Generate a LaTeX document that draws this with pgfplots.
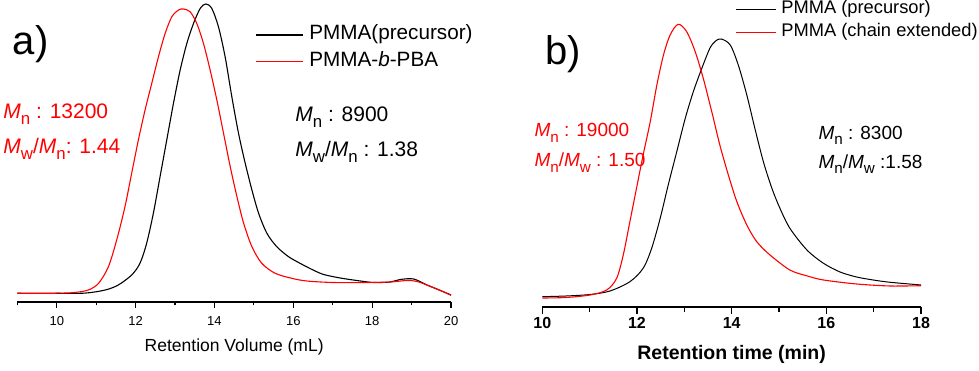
\documentclass[border=0pt]{standalone}
\usepackage{pgfplots}
\pgfplotsset{compat=1.18}
\usepackage{fontspec}
\setmainfont{Liberation Sans}
\newcommand{\sub}[1]{\raisebox{-0.3em}{\scalebox{0.8}{#1}}}
\newcommand{\fs}[1]{\fontsize{#1}{#1}\selectfont}

\pgfplotstableread{
x y
9.0 8.7
10.0 8.7
10.72 8.9
11.23 12
11.56 17
11.90 27
12.11 38.7
12.28 58.7
12.45 88.7
12.62 125.3
12.79 162
12.96 198.7
13.13 232
13.30 258.7
13.47 278.7
13.64 293.7
13.78 298
13.93 293.7
14.10 275.3
14.27 245.3
14.44 205.3
14.61 168.7
14.78 138.7
14.95 112
15.12 88.7
15.33 68.7
15.58 55.3
15.88 45.3
16.17 38.7
16.5 32
16.77 27.5
17.19 24
17.70 21
18.04 19.5
18.46 20
18.71 22.5
19.05 23
19.39 17
19.73 11.5
20.0 7
}\blackA

\pgfplotstableread{
x y
9.0 8.7
10.0 8.8
10.45 9.5
10.80 12
11.06 18.7
11.31 35.3
11.52 62
11.73 95.3
11.90 128.7
12.07 162
12.24 192
12.41 218.7
12.58 245.3
12.75 268.7
12.92 285.3
13.09 292
13.21 293
13.38 290.3
13.55 278.7
13.72 258.7
13.89 232
14.06 202
14.23 168.7
14.40 135.3
14.57 105.3
14.74 78.7
14.95 55.3
15.20 38.7
15.54 28.7
15.96 23.7
16.34 21
17.0 19.5
17.87 19.5
18.46 20
18.88 21.5
19.14 20.5
19.47 15.7
19.73 11.5
20.0 6.7
}\redA

\pgfplotstableread{
x y
10.0 10.3
10.5 11
11.01 12.5
11.43 16
11.85 25.3
12.13 38.7
12.31 58.7
12.49 88.7
12.66 122
12.84 155.3
13.02 188.7
13.19 215.3
13.37 238.7
13.54 258.7
13.66 266
13.78 268
13.97 262
14.14 242
14.32 212
14.49 178.7
14.67 145.3
14.85 118.7
15.02 98.7
15.23 78.7
15.59 57
15.94 43.7
16.29 35
16.64 30
16.99 27
17.35 24.7
18.0 22
}\blackB

\pgfplotstableread{
x y
10.0 9
10.5 9.5
11.01 12
11.36 17
11.57 28.7
11.71 52
11.85 85.3
11.99 118.7
12.13 152
12.28 185.3
12.42 222
12.56 252
12.70 272
12.87 282.7
13.05 275.3
13.23 255.3
13.40 228.7
13.58 195.3
13.75 162
13.93 132
14.11 105.3
14.32 82
14.53 65.3
14.81 52
15.23 37
15.6 31
15.94 27
16.64 23
17.35 21
18.0 21.3
}\redB

\begin{document}
\begin{tikzpicture}
\useasboundingbox (0,0) rectangle (979pt,371pt);
\begin{axis}[
  at={(17.33pt,69pt)}, anchor=south west,
  scale only axis, width=433.7pt, height=302pt,
  xmin=9, xmax=20, ymin=0, ymax=302,
  axis x line*=bottom, axis y line=none, ytick=\empty,
  xtick={10,12,...,20}, minor xtick={9,11,...,19},
  tick align=outside, major tick length=5.7pt, minor tick length=3.5pt,
  tick style={black, line width=1.1pt},
  axis line style={black, line width=1.3pt},
  /pgf/number format/assume math mode=true,
  xticklabel style={font=\fs{13}, yshift=-5pt},
  xlabel={Retention Volume (mL)},
  xlabel style={font=\fs{17.5}, at={(axis description cs:0.5,-0.149)}, anchor=center},
  clip=false,
  legend style={at={(axis description cs:0.548,0.840)}, anchor=west, draw=none, fill=none, inner sep=0pt, font=\fs{20.7}, row sep=6.7pt, column sep=6pt, nodes={inner sep=0pt, text height=15pt, text depth=5pt}},
  legend image code/.code={\draw[#1] (0pt,0pt) -- (47pt,0pt);},
  legend cell align=left,
]
\addplot[black, line width=1.1pt, smooth] table {\blackA};
\addlegendentry{PMMA(precursor)}
\addplot[red, line width=1.1pt, smooth] table {\redA};
\addlegendentry{PMMA-\textit{b}-PBA}
\node[anchor=base west, inner sep=0pt, text=red, font=\fs{21}] at (axis cs:8.644,183.7) {\textit{M}\sub{n} : 13200};
\node[anchor=base west, inner sep=0pt, text=red, font=\fs{21}] at (axis cs:8.644,148.7) {\textit{M}\sub{w}/\textit{M}\sub{n}: 1.44};
\node[anchor=base west, inner sep=0pt, text=black, font=\fs{21}] at (axis cs:16.047,180.3) {\textit{M}\sub{n} : 8900};
\node[anchor=base west, inner sep=0pt, text=black, font=\fs{21}] at (axis cs:16.047,145.3) {\textit{M}\sub{w}/\textit{M}\sub{n} : 1.38};
\node[anchor=base west, inner sep=0pt, font=\fs{40}] at (axis cs:8.88,247) {a)};
\end{axis}

\begin{axis}[
  at={(542.3pt,64pt)}, anchor=south west,
  scale only axis, width=378.7pt, height=307pt,
  xmin=10, xmax=18, ymin=0, ymax=307,
  axis x line*=bottom, axis y line=none, ytick=\empty,
  xtick={10,12,...,18}, minor xtick={11,13,...,17},
  tick align=outside, major tick length=6.7pt, minor tick length=5pt,
  tick style={black, line width=1.1pt},
  axis line style={black, line width=1.3pt},
  /pgf/number format/assume math mode=true,
  xticklabel style={font=\bfseries\fs{16}},
  xlabel={Retention time (min)},
  xlabel style={font=\bfseries\fs{19.5}, at={(axis description cs:0.5,-0.156)}, anchor=center},
  clip=false,
  legend style={at={(axis description cs:0.509,0.932)}, anchor=west, draw=none, fill=none, inner sep=0pt, font=\fs{18.3}, row sep=5pt, column sep=5pt, nodes={inner sep=0pt, text height=13.5pt, text depth=4.5pt}},
  legend image code/.code={\draw[#1] (0pt,0pt) -- (40pt,0pt);},
  legend cell align=left,
]
\addplot[black, line width=1pt, smooth] table {\blackB};
\addlegendentry{PMMA (precursor)}
\addplot[red, line width=1.1pt, smooth] table {\redB};
\addlegendentry{PMMA (chain extended)}
\node[anchor=base west, inner sep=0pt, text=red, font=\fs{19}] at (axis cs:9.831,170.3) {\textit{M}\sub{n} : 19000};
\node[anchor=base west, inner sep=0pt, text=red, font=\fs{19}] at (axis cs:9.831,140.3) {\textit{M}\sub{n}/\textit{M}\sub{w} : 1.50};
\node[anchor=base west, inner sep=0pt, text=black, font=\fs{19}] at (axis cs:15.831,167.7) {\textit{M}\sub{n} : 8300};
\node[anchor=base west, inner sep=0pt, text=black, font=\fs{19}] at (axis cs:15.831,138.7) {\textit{M}\sub{n}/\textit{M}\sub{w} :1.58};
\node[anchor=base west, inner sep=0pt, font=\fs{40}] at (axis cs:10.057,242) {b)};
\end{axis}
\end{tikzpicture}
\end{document}
